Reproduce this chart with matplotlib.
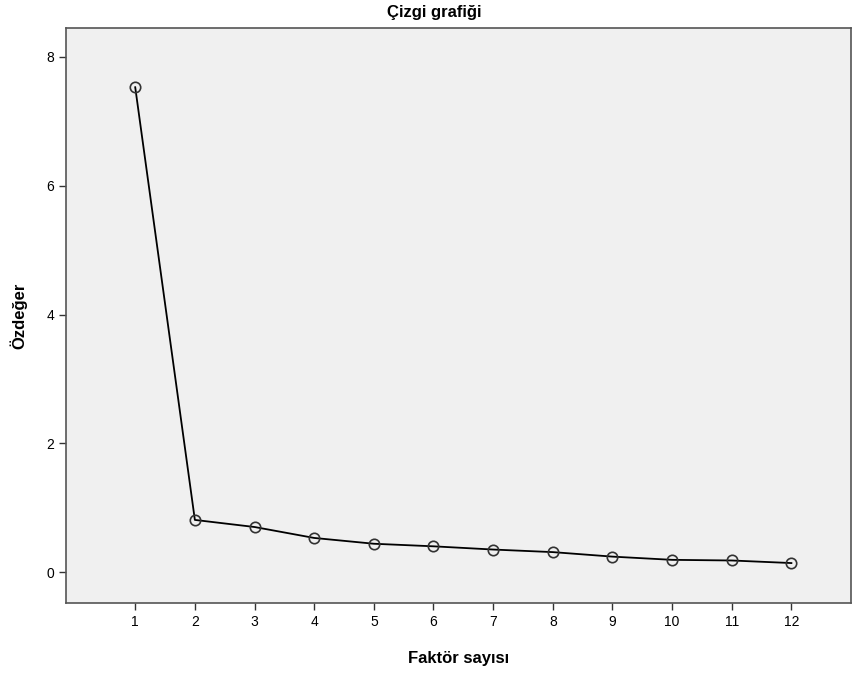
import matplotlib.pyplot as plt

plt.rcParams['font.family'] = ['Liberation Sans', 'DejaVu Sans']

# scree plot values
factors = [1, 2, 3, 4, 5, 6, 7, 8, 9, 10, 11, 12]
eigen = [7.53, 0.81, 0.70, 0.53, 0.44, 0.40, 0.35, 0.31, 0.24, 0.19, 0.18, 0.14]
yticks = [0, 2, 4, 6, 8]

fig = plt.figure(figsize=(8.53, 6.75), dpi=100)
ax = fig.add_axes([0.0774, 0.1067, 0.9203, 0.8518])
ax.set_facecolor('#f0f0f0')

ax.plot(factors, eigen, color='black', lw=1.3, zorder=2)
ax.plot(factors, eigen, 'o', ms=7.5, mfc='none', mec='#333333', mew=1.2, zorder=3)

ax.set_xlim(-0.16, 13.0)
ax.set_ylim(-0.48, 8.45)
ax.set_xticks(factors)
ax.set_yticks(yticks)
ax.tick_params(labelsize=10, length=5, width=1, color='#333333')
for s in ax.spines.values():
    s.set_color('#555555')
    s.set_linewidth(1.2)

ax.set_xlabel('Faktör sayısı', fontsize=12, fontweight='bold', labelpad=16)
ax.set_ylabel('Özdeğer', fontsize=12, fontweight='bold', labelpad=14)
fig.text(0.509, 0.982, 'Çizgi grafiği', fontsize=12, fontweight='bold',
         ha='center', va='center')

fig.savefig('out.png', dpi=100)
